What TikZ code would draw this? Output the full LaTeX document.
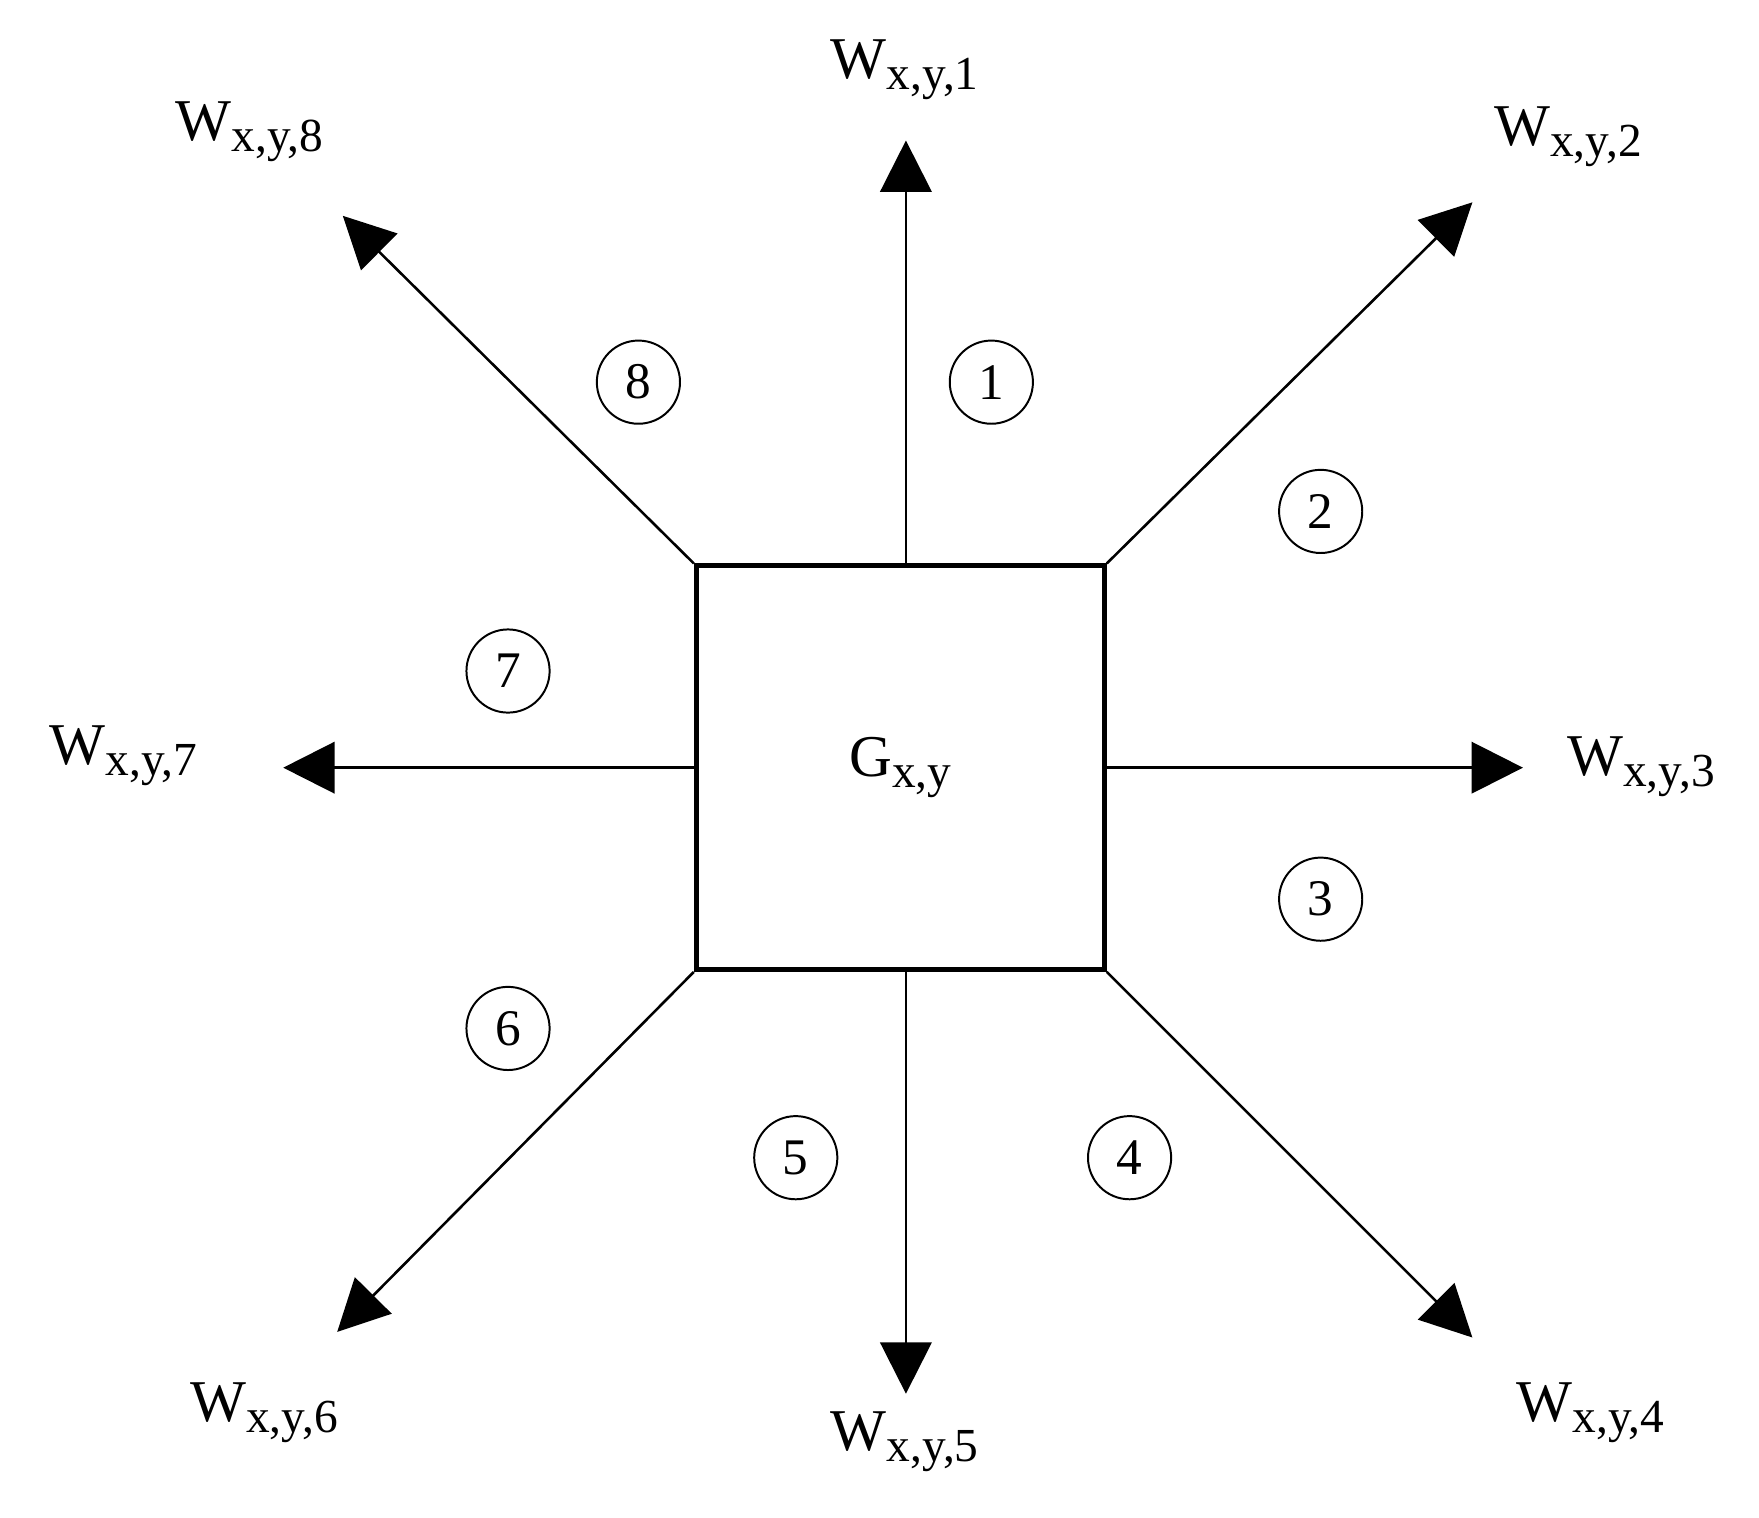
\documentclass[tikz,border=0pt]{standalone}
\usepackage{fontspec}
\setmainfont{Liberation Serif}
\usetikzlibrary{arrows.meta}
\newcommand{\wlab}[2]{#1\raisebox{-0.4ex}{\fontsize{24}{24}\selectfont #2}}
\begin{document}
\begin{tikzpicture}[x=0.02cm,y=-0.02cm,
  arr/.style={line width=1.3pt,-{Triangle[length=26pt,width=26pt]}},
  lab/.style={font=\fontsize{30}{30}\selectfont,inner sep=0pt},
  num/.style={circle,draw,line width=1pt,minimum size=74*0.02cm,inner sep=0pt,font=\fontsize{26}{26}\selectfont}]
\useasboundingbox (0,0) rectangle (1565,1350);
\node[draw,line width=2.5pt,minimum width=363*0.02cm,minimum height=359*0.02cm,inner sep=0pt,lab] (g) at (801,683) {\wlab{G}{x,y}};
\coordinate (t1) at (806,125); \coordinate (t2) at (1310,180);
\coordinate (t3) at (1355,683); \coordinate (t4) at (1310,1190);
\coordinate (t5) at (806,1240); \coordinate (t6) at (300,1185);
\coordinate (t7) at (252,683); \coordinate (t8) at (305,192);
\draw[arr] (g.north -| t1) -- (t1);
\draw[arr] (g.north east) -- (t2);
\draw[arr] (g.east) -- (t3);
\draw[arr] (g.south east) -- (t4);
\draw[arr] (g.south -| t5) -- (t5);
\draw[arr] (g.south west) -- (t6);
\draw[arr] (g.west) -- (t7);
\draw[arr] (g.north west) -- (t8);
\node[lab] (w1) at (805,62) {\wlab{W}{x,y,1}};
\node[lab] (w2) at (1395,122) {\wlab{W}{x,y,2}};
\node[lab] (w3) at (1460,682) {\wlab{W}{x,y,3}};
\node[lab] (w4) at (1415,1257) {\wlab{W}{x,y,4}};
\node[lab] (w5) at (805,1283) {\wlab{W}{x,y,5}};
\node[lab] (w6) at (235,1257) {\wlab{W}{x,y,6}};
\node[lab] (w7) at (110,672) {\wlab{W}{x,y,7}};
\node[lab] (w8) at (222,117) {\wlab{W}{x,y,8}};
\node[num] (n1) at (882,340) {1};
\node[num] (n2) at (1175,455) {2};
\node[num] (n3) at (1175,800) {3};
\node[num] (n4) at (1005,1030) {4};
\node[num] (n5) at (708,1030) {5};
\node[num] (n6) at (452,915) {6};
\node[num] (n7) at (452,597) {7};
\node[num] (n8) at (568,340) {8};
\end{tikzpicture}
\end{document}
